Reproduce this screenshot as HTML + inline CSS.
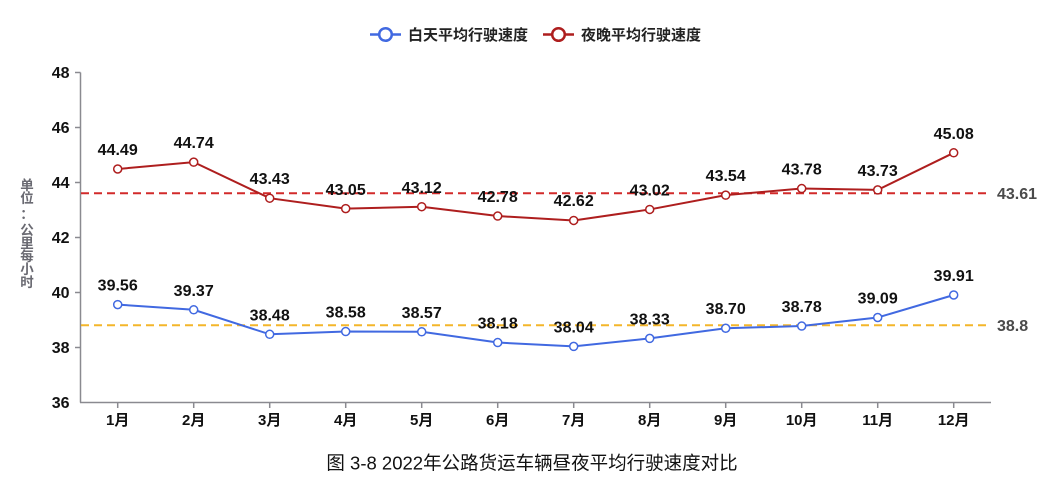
<!DOCTYPE html>
<html>
<head>
<meta charset="utf-8">
<style>
html,body{margin:0;padding:0;background:#fff;}
svg{display:block;}
text{font-family:"Liberation Sans","Noto Sans CJK SC",sans-serif;}
</style>
</head>
<body>
<svg width="1061" height="488" viewBox="0 0 1061 488" xmlns="http://www.w3.org/2000/svg">
<rect width="1061" height="488" fill="#fff"/>

<!-- Legend -->
<line x1="370" y1="34.5" x2="401" y2="34.5" stroke="#4169E1" stroke-width="2.5"/>
<circle cx="385.5" cy="34.5" r="6.3" fill="#fff" stroke="#4169E1" stroke-width="2.5"/>
<text x="408" y="40" font-size="15" font-weight="bold" fill="#222">白天平均行驶速度</text>
<line x1="543" y1="34.5" x2="574" y2="34.5" stroke="#AE1E1E" stroke-width="2.5"/>
<circle cx="558.5" cy="34.5" r="6.3" fill="#fff" stroke="#AE1E1E" stroke-width="2.5"/>
<text x="581" y="40" font-size="15" font-weight="bold" fill="#222">夜晚平均行驶速度</text>

<!-- Y axis -->
<line x1="80.5" y1="72.5" x2="80.5" y2="402.5" stroke="#8a8a90" stroke-width="1.5"/>
<g stroke="#8a8a90" stroke-width="1.5">
<line x1="75" y1="72.5" x2="80.5" y2="72.5"/>
<line x1="75" y1="127.5" x2="80.5" y2="127.5"/>
<line x1="75" y1="182.5" x2="80.5" y2="182.5"/>
<line x1="75" y1="237.5" x2="80.5" y2="237.5"/>
<line x1="75" y1="292.5" x2="80.5" y2="292.5"/>
<line x1="75" y1="347.5" x2="80.5" y2="347.5"/>
</g>
<g font-size="16" font-weight="bold" fill="#111" text-anchor="end">
<text x="69.5" y="78">48</text>
<text x="69.5" y="133">46</text>
<text x="69.5" y="188">44</text>
<text x="69.5" y="243">42</text>
<text x="69.5" y="298">40</text>
<text x="69.5" y="353">38</text>
<text x="69.5" y="408">36</text>
</g>

<!-- Y axis name (vertical) -->
<g font-size="13.5" font-weight="bold" fill="#6a6a72" text-anchor="middle">
<text x="27" y="190">单</text>
<text x="27" y="203">位</text>
<text x="27" y="219">：</text>
<text x="27" y="235">公</text>
<text x="27" y="248">里</text>
<text x="27" y="261">每</text>
<text x="27" y="274">小</text>
<text x="27" y="287">时</text>
</g>

<!-- X axis -->
<line x1="80" y1="402.5" x2="991" y2="402.5" stroke="#8a8a90" stroke-width="1.5"/>
<g stroke="#8a8a90" stroke-width="1.5">
<line x1="117.7" y1="402.5" x2="117.7" y2="408"/>
<line x1="193.7" y1="402.5" x2="193.7" y2="408"/>
<line x1="269.7" y1="402.5" x2="269.7" y2="408"/>
<line x1="345.7" y1="402.5" x2="345.7" y2="408"/>
<line x1="421.7" y1="402.5" x2="421.7" y2="408"/>
<line x1="497.7" y1="402.5" x2="497.7" y2="408"/>
<line x1="573.7" y1="402.5" x2="573.7" y2="408"/>
<line x1="649.7" y1="402.5" x2="649.7" y2="408"/>
<line x1="725.7" y1="402.5" x2="725.7" y2="408"/>
<line x1="801.7" y1="402.5" x2="801.7" y2="408"/>
<line x1="877.7" y1="402.5" x2="877.7" y2="408"/>
<line x1="953.7" y1="402.5" x2="953.7" y2="408"/>
</g>
<g font-size="15" font-weight="bold" fill="#111" text-anchor="middle">
<text x="117.7" y="425">1月</text>
<text x="193.7" y="425">2月</text>
<text x="269.7" y="425">3月</text>
<text x="345.7" y="425">4月</text>
<text x="421.7" y="425">5月</text>
<text x="497.7" y="425">6月</text>
<text x="573.7" y="425">7月</text>
<text x="649.7" y="425">8月</text>
<text x="725.7" y="425">9月</text>
<text x="801.7" y="425">10月</text>
<text x="877.7" y="425">11月</text>
<text x="953.7" y="425">12月</text>
</g>

<!-- Average lines -->
<line x1="81" y1="193.3" x2="987" y2="193.3" stroke="#D22A2A" stroke-width="2" stroke-dasharray="8 5"/>
<line x1="81" y1="325.3" x2="987" y2="325.3" stroke="#F4B62A" stroke-width="2" stroke-dasharray="8 5"/>
<text x="997" y="199" font-size="16" font-weight="bold" fill="#4a4a4a">43.61</text>
<text x="997" y="331" font-size="16" font-weight="bold" fill="#4a4a4a">38.8</text>

<!-- Night series -->
<polyline fill="none" stroke="#AE1E1E" stroke-width="2" points="117.7,169.0 193.7,162.15 269.7,198.2 345.7,208.6 421.7,206.7 497.7,216.05 573.7,220.45 649.7,209.45 725.7,195.15 801.7,188.55 877.7,189.9 953.7,152.8"/>
<g fill="#fff" stroke="#AE1E1E" stroke-width="1.5">
<circle cx="117.7" cy="169.0" r="4"/>
<circle cx="193.7" cy="162.15" r="4"/>
<circle cx="269.7" cy="198.2" r="4"/>
<circle cx="345.7" cy="208.6" r="4"/>
<circle cx="421.7" cy="206.7" r="4"/>
<circle cx="497.7" cy="216.05" r="4"/>
<circle cx="573.7" cy="220.45" r="4"/>
<circle cx="649.7" cy="209.45" r="4"/>
<circle cx="725.7" cy="195.15" r="4"/>
<circle cx="801.7" cy="188.55" r="4"/>
<circle cx="877.7" cy="189.9" r="4"/>
<circle cx="953.7" cy="152.8" r="4"/>
</g>

<!-- Day series -->
<polyline fill="none" stroke="#4169E1" stroke-width="2" points="117.7,304.6 193.7,309.8 269.7,334.3 345.7,331.55 421.7,331.8 497.7,342.55 573.7,346.4 649.7,338.4 725.7,328.25 801.7,326.05 877.7,317.5 953.7,295.0"/>
<g fill="#fff" stroke="#4169E1" stroke-width="1.5">
<circle cx="117.7" cy="304.6" r="4"/>
<circle cx="193.7" cy="309.8" r="4"/>
<circle cx="269.7" cy="334.3" r="4"/>
<circle cx="345.7" cy="331.55" r="4"/>
<circle cx="421.7" cy="331.8" r="4"/>
<circle cx="497.7" cy="342.55" r="4"/>
<circle cx="573.7" cy="346.4" r="4"/>
<circle cx="649.7" cy="338.4" r="4"/>
<circle cx="725.7" cy="328.25" r="4"/>
<circle cx="801.7" cy="326.05" r="4"/>
<circle cx="877.7" cy="317.5" r="4"/>
<circle cx="953.7" cy="295.0" r="4"/>
</g>

<!-- Data labels -->
<g font-size="16" font-weight="bold" fill="#111" text-anchor="middle">
<text x="117.7" y="155">44.49</text>
<text x="193.7" y="148">44.74</text>
<text x="269.7" y="184">43.43</text>
<text x="345.7" y="195">43.05</text>
<text x="421.7" y="193">43.12</text>
<text x="497.7" y="202">42.78</text>
<text x="573.7" y="206">42.62</text>
<text x="649.7" y="195.5">43.02</text>
<text x="725.7" y="181">43.54</text>
<text x="801.7" y="174.5">43.78</text>
<text x="877.7" y="176">43.73</text>
<text x="953.7" y="139">45.08</text>

<text x="117.7" y="290.5">39.56</text>
<text x="193.7" y="296">39.37</text>
<text x="269.7" y="320.5">38.48</text>
<text x="345.7" y="317.5">38.58</text>
<text x="421.7" y="318">38.57</text>
<text x="497.7" y="328.5">38.18</text>
<text x="573.7" y="332.5">38.04</text>
<text x="649.7" y="324.5">38.33</text>
<text x="725.7" y="314">38.70</text>
<text x="801.7" y="312">38.78</text>
<text x="877.7" y="303.5">39.09</text>
<text x="953.7" y="281">39.91</text>
</g>

<!-- Caption -->
<text x="532" y="469.5" font-size="18.5" fill="#111" text-anchor="middle">图 3-8 2022年公路货运车辆昼夜平均行驶速度对比</text>
</svg>
</body>
</html>
